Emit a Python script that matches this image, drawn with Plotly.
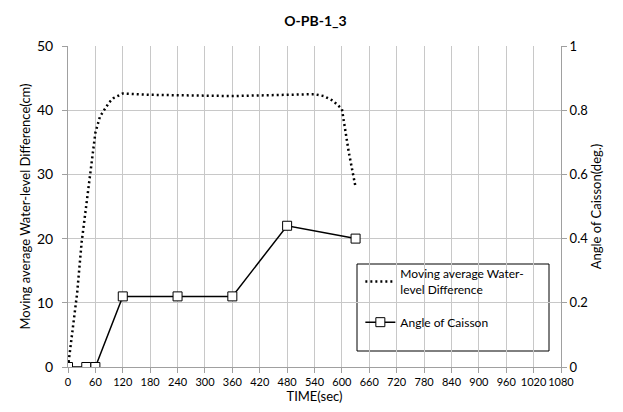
import plotly.graph_objects as go

# Data
wl_time = [0, 10, 20, 30, 40, 48, 55, 60, 70, 80, 90, 100, 110, 120, 180, 240, 300, 360, 420, 480, 540, 560, 580, 600, 615, 630]
wl_diff = [0, 5.5, 11.5, 19.5, 25, 30, 34, 36.5, 39, 40.2, 41.2, 41.9, 42.3, 42.6, 42.4, 42.3, 42.2, 42.2, 42.3, 42.4, 42.5, 42.2, 41.5, 40.2, 33.5, 28]

ang_time = [0, 40, 60, 120, 240, 360, 480, 630]
ang_deg = [0, 0, 0, 0.22, 0.22, 0.22, 0.44, 0.40]

x_ticks = list(range(0, 1081, 60))

FONT = "Lato"
GRID = "#c8c8c8"
AX = "#a0a0a0"

# The page body has an 8px margin, so the figure is drawn 8px in from the top-left.
W, H = 615, 404
ML, MT, MR, MB = 60, 38, 62, 45

fig = go.Figure()
fig.add_trace(go.Scatter(
    x=wl_time, y=wl_diff, mode="lines",
    name="Moving average Water-<br>level Difference", legendgroup="a",
    line=dict(color="black", width=2.5, dash="2px,3px"),
))
fig.add_trace(go.Scatter(
    x=ang_time, y=ang_deg, mode="lines+markers", yaxis="y2",
    name="Angle of Caisson", legendgroup="b",
    line=dict(color="black", width=1.5),
    marker=dict(symbol="square", size=9, color="white", line=dict(color="black", width=1)),
))

fig.update_layout(
    width=W, height=H,
    margin=dict(l=ML, r=MR, t=MT, b=MB, autoexpand=False),
    paper_bgcolor="white", plot_bgcolor="white",
    font=dict(family=FONT, color="black", size=13),
    title=dict(text="<b>O-PB-1_3</b>", x=0.5, xanchor="center", y=0.98, yanchor="top",
               font=dict(family=FONT, size=14), automargin=False),
    showlegend=True,
    legend=dict(x=0.593, y=0.335, xanchor="left", yanchor="top", traceorder="grouped",
                bgcolor="rgba(0,0,0,0)", borderwidth=0,
                font=dict(family=FONT, size=12), itemwidth=30, tracegroupgap=14),
    xaxis=dict(range=[0, 1080], tickvals=x_ticks, ticktext=[str(v) for v in x_ticks],
               tickfont=dict(size=11), tickangle=0, automargin=False,
               showgrid=True, gridcolor=GRID, gridwidth=1,
               showline=True, linecolor=AX, linewidth=1, ticks="outside", ticklen=5,
               tickcolor=AX, zeroline=False,
               title=dict(text="TIME(sec)", font=dict(size=13), standoff=0)),
    yaxis=dict(range=[0, 50], dtick=10, showgrid=True, gridcolor=GRID, gridwidth=1,
               showline=True, linecolor=AX, ticks="outside", ticklen=5, tickcolor=AX,
               zeroline=False, tickfont=dict(size=14), automargin=False, ticklabelstandoff=6,
               title=dict(text="Moving average Water-level Difference(cm)", font=dict(size=13), standoff=3)),
    yaxis2=dict(range=[0, 1], dtick=0.2, overlaying="y", side="right", showgrid=False,
                showline=True, linecolor=AX, ticks="outside", ticklen=5, tickcolor=AX,
                zeroline=False, tickfont=dict(size=13), automargin=False,
                title=dict(text="Angle of Caisson(deg.)", font=dict(size=13), standoff=0)),
    shapes=[dict(type="rect", xref="paper", yref="paper",
                 x0=(357 - 68) / 493, x1=(549 - 68) / 493,
                 y0=(367 - 351) / 321, y1=(367 - 264) / 321,
                 line=dict(color="black", width=1), fillcolor="white", layer="below")],
)

fig.write_html("out.html")
